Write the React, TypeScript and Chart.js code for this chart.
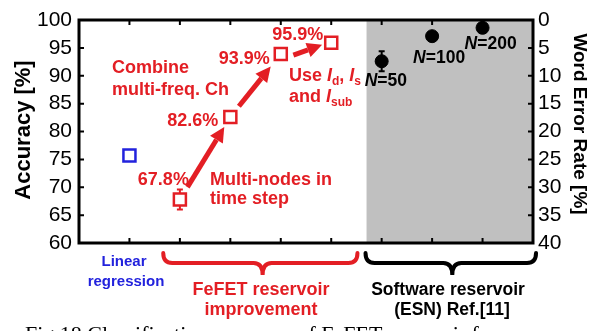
import { useEffect, useRef } from 'react';
import { Chart, registerables } from 'chart.js';

Chart.register(...registerables);

// ---- data ----
const linearX = [1];
const linearAcc = [75.7];

const fefetX = [2, 3, 4, 5];
const fefetAcc = [67.8, 82.6, 93.9, 95.9];
const fefetErr = [1.8, 0, 0, 0];
const fefetLabels = ['67.8%', '82.6%', '93.9%', '95.9%'];

const esnX = [6, 7, 8];
const esnAcc = [92.6, 97.1, 98.6];
const esnErr = [1.8, 0, 0];
const esnN = ['50', '100', '200'];

const xTickPositions = [1, 2, 3, 4, 5, 6, 7, 8];
const accTicks = [60, 65, 70, 75, 80, 85, 90, 95, 100];
const werTicks = [0, 5, 10, 15, 20, 25, 30, 35, 40];
const softwareStart = 5.7;

// ---- styles ----
const RED = '#e31e24';
const BLUE = '#2222dd';
const GRAY = '#c0c0c0';
const SANS = "'Liberation Sans', Arial, sans-serif";

type Seg = { t: string; it?: boolean; sub?: boolean };

function drawRich(ctx: CanvasRenderingContext2D, segs: Seg[], x: number, y: number, size: number, color: string) {
  let cx = x;
  ctx.fillStyle = color;
  ctx.textAlign = 'left';
  ctx.textBaseline = 'alphabetic';
  for (const s of segs) {
    const fs = s.sub ? Math.round(size * 0.68) : size;
    ctx.font = `${s.it ? 'italic ' : ''}bold ${fs}px ${SANS}`;
    ctx.fillText(s.t, cx, s.sub ? y + 4 : y);
    cx += ctx.measureText(s.t).width;
  }
}

function drawArrow(ctx: CanvasRenderingContext2D, x0: number, y0: number, x1: number, y1: number, color: string) {
  const ang = Math.atan2(y1 - y0, x1 - x0);
  const head = 15;
  const hw = 7.5;
  const bx = x1 - head * Math.cos(ang);
  const by = y1 - head * Math.sin(ang);
  ctx.strokeStyle = color;
  ctx.fillStyle = color;
  ctx.lineWidth = 5;
  ctx.lineCap = 'butt';
  ctx.beginPath();
  ctx.moveTo(x0, y0);
  ctx.lineTo(bx, by);
  ctx.stroke();
  ctx.beginPath();
  ctx.moveTo(x1, y1);
  ctx.lineTo(bx + hw * Math.sin(ang), by - hw * Math.cos(ang));
  ctx.lineTo(bx - hw * Math.sin(ang), by + hw * Math.cos(ang));
  ctx.closePath();
  ctx.fill();
}

function drawBrace(ctx: CanvasRenderingContext2D, x0: number, x1: number, xc: number, yTop: number, color: string) {
  const y1 = yTop + 10;
  const y2 = yTop + 22;
  const r = 9;
  ctx.strokeStyle = color;
  ctx.lineWidth = 4;
  ctx.lineCap = 'round';
  ctx.beginPath();
  ctx.moveTo(x0, yTop);
  ctx.quadraticCurveTo(x0, y1, x0 + r, y1);
  ctx.lineTo(xc - r, y1);
  ctx.quadraticCurveTo(xc, y1, xc, y2);
  ctx.quadraticCurveTo(xc, y1, xc + r, y1);
  ctx.lineTo(x1 - r, y1);
  ctx.quadraticCurveTo(x1, y1, x1, yTop);
  ctx.stroke();
}

const decoPlugin = {
  id: 'deco',
  beforeDatasetsDraw(chart: any) {
    const { ctx, chartArea: a, scales } = chart;
    const x = scales.x;
    const y = scales.y;
    ctx.save();
    const gx = x.getPixelForValue(softwareStart);
    ctx.fillStyle = GRAY;
    ctx.fillRect(gx, a.top, a.right - gx, a.bottom - a.top);

    const errs = (xs: number[], ys: number[], es: number[], color: string) => {
      ctx.strokeStyle = color;
      ctx.lineWidth = 2;
      xs.forEach((xv, i) => {
        if (!es[i]) return;
        const px = x.getPixelForValue(xv);
        const top = y.getPixelForValue(ys[i] + es[i]);
        const bot = y.getPixelForValue(ys[i] - es[i]);
        ctx.beginPath();
        ctx.moveTo(px, top);
        ctx.lineTo(px, bot);
        ctx.moveTo(px - 3, top);
        ctx.lineTo(px + 3, top);
        ctx.moveTo(px - 3, bot);
        ctx.lineTo(px + 3, bot);
        ctx.stroke();
      });
    };
    errs(fefetX, fefetAcc, fefetErr, RED);
    errs(esnX, esnAcc, esnErr, '#000');
    ctx.restore();
  },
  afterDatasetsDraw(chart: any) {
    const { ctx, chartArea: a, scales } = chart;
    const x = scales.x;
    const y = scales.y;
    const y2 = scales.y2;
    ctx.save();

    // frame
    ctx.strokeStyle = '#000';
    ctx.lineWidth = 3;
    ctx.strokeRect(a.left, a.top, a.right - a.left, a.bottom - a.top);

    // inward ticks
    ctx.lineWidth = 2;
    ctx.beginPath();
    xTickPositions.forEach((v) => {
      const px = x.getPixelForValue(v);
      ctx.moveTo(px, a.top);
      ctx.lineTo(px, a.top + 5);
      ctx.moveTo(px, a.bottom);
      ctx.lineTo(px, a.bottom - 5);
    });
    accTicks.forEach((v) => {
      const py = y.getPixelForValue(v);
      ctx.moveTo(a.left, py);
      ctx.lineTo(a.left + 5, py);
    });
    werTicks.forEach((v) => {
      const py = y2.getPixelForValue(v);
      ctx.moveTo(a.right, py);
      ctx.lineTo(a.right - 5, py);
    });
    ctx.stroke();

    // arrows between FeFET steps
    const spans = [
      [0.15, 0.88],
      [0.17, 0.8],
      [0.25, 0.82],
    ];
    for (let i = 0; i < fefetX.length - 1; i++) {
      const x0 = x.getPixelForValue(fefetX[i]);
      const y0 = y.getPixelForValue(fefetAcc[i]);
      const x1 = x.getPixelForValue(fefetX[i + 1]);
      const y1 = y.getPixelForValue(fefetAcc[i + 1]);
      const [t0, t1] = spans[i];
      drawArrow(ctx, x0 + (x1 - x0) * t0, y0 + (y1 - y0) * t0 + (i === 2 ? 4 : 0), x0 + (x1 - x0) * t1, y0 + (y1 - y0) * t1, RED);
    }

    // value labels next to FeFET points
    const offs = [
      [9, -15],
      [-12, 9],
      [-11, 10],
      [-8, -3],
    ];
    ctx.font = `bold 18px ${SANS}`;
    ctx.fillStyle = RED;
    ctx.textAlign = 'right';
    ctx.textBaseline = 'alphabetic';
    fefetLabels.forEach((lab, i) => {
      const px = x.getPixelForValue(fefetX[i]);
      const py = y.getPixelForValue(fefetAcc[i]);
      ctx.fillText(lab, px + offs[i][0], py + offs[i][1]);
    });

    // N labels
    const nOffs = [
      [-17, 25],
      [-19, 27],
      [-18, 21],
    ];
    esnN.forEach((n, i) => {
      const px = x.getPixelForValue(esnX[i]);
      const py = y.getPixelForValue(esnAcc[i]);
      drawRich(ctx, [{ t: 'N', it: true }, { t: '=' + n }], px + nOffs[i][0], py + nOffs[i][1], 17.5, '#000');
    });

    // free annotations
    drawRich(ctx, [{ t: 'Combine' }], 112, 73, 18, RED);
    drawRich(ctx, [{ t: 'multi-freq. Ch' }], 112, 95, 18, RED);
    drawRich(ctx, [{ t: 'Multi-nodes in' }], 210, 185, 18, RED);
    drawRich(ctx, [{ t: 'time step' }], 210, 204, 18, RED);
    drawRich(ctx, [{ t: 'Use ' }, { t: 'I', it: true }, { t: 'd', sub: true }, { t: ', ' }, { t: 'I', it: true }, { t: 's', sub: true }], 289, 81, 18, RED);
    drawRich(ctx, [{ t: 'and ' }, { t: 'I', it: true }, { t: 'sub', sub: true }], 289, 102, 18, RED);

    ctx.restore();
  },
  afterDraw(chart: any) {
    const { ctx, chartArea: a, scales } = chart;
    const x = scales.x;
    ctx.save();

    // axis titles
    ctx.fillStyle = '#000';
    ctx.textAlign = 'center';
    ctx.textBaseline = 'middle';
    ctx.font = `bold 22px ${SANS}`;
    ctx.save();
    ctx.translate(24, 130);
    ctx.rotate(-Math.PI / 2);
    ctx.fillText('Accuracy [%]', 0, 0);
    ctx.restore();
    ctx.font = `bold 19px ${SANS}`;
    ctx.save();
    ctx.translate(579, 124);
    ctx.rotate(Math.PI / 2);
    ctx.fillText('Word Error Rate [%]', 0, 0);
    ctx.restore();

    // group braces
    const bTop = a.bottom + 10;
    drawBrace(ctx, x.getPixelForValue(1.67), x.getPixelForValue(5.52), x.getPixelForValue(3.64), bTop, RED);
    drawBrace(ctx, x.getPixelForValue(5.68), x.getPixelForValue(9.06), x.getPixelForValue(7.4), bTop, '#000');

    // group labels
    ctx.textAlign = 'center';
    ctx.textBaseline = 'alphabetic';
    ctx.fillStyle = BLUE;
    ctx.font = `bold 15px ${SANS}`;
    ctx.fillText('Linear', 124, 266);
    ctx.fillText('regression', 126, 286);
    ctx.fillStyle = RED;
    ctx.font = `bold 18px ${SANS}`;
    ctx.fillText('FeFET reservoir', 261, 295);
    ctx.fillText('improvement', 261, 315);
    ctx.fillStyle = '#000';
    ctx.font = `bold 17.5px ${SANS}`;
    ctx.fillText('Software reservoir', 448, 295);
    ctx.fillText('(ESN) Ref.[11]', 452, 315);

    // caption (cut by the page edge)
    ctx.textAlign = 'left';
    ctx.font = `22px 'Liberation Serif', 'Times New Roman', serif`;
    ctx.fillText('Fig.18 Classification accuracy of FeFET reservoir f', 25, 341);
    ctx.restore();
  },
};

export default function App() {
  const ref = useRef<HTMLCanvasElement | null>(null);

  useEffect(() => {
    if (!ref.current) return;
    const chart = new Chart(ref.current, {
      type: 'scatter',
      data: {
        datasets: [
          {
            label: 'Linear regression',
            data: linearX.map((v, i) => ({ x: v, y: linearAcc[i] })),
            pointStyle: 'rect',
            radius: 8.5,
            borderColor: BLUE,
            backgroundColor: '#fff',
            borderWidth: 2.5,
            yAxisID: 'y',
          },
          {
            label: 'FeFET reservoir',
            data: fefetX.map((v, i) => ({ x: v, y: fefetAcc[i] })),
            pointStyle: 'rect',
            radius: 8.5,
            borderColor: RED,
            backgroundColor: '#fff',
            borderWidth: 2.5,
            yAxisID: 'y',
          },
          {
            label: 'Software reservoir (ESN)',
            data: esnX.map((v, i) => ({ x: v, y: esnAcc[i] })),
            pointStyle: 'circle',
            radius: 6.5,
            borderColor: '#000',
            backgroundColor: '#000',
            borderWidth: 1,
            yAxisID: 'y',
          },
        ],
      },
      options: {
        responsive: false,
        animation: false,
        devicePixelRatio: 1,
        layout: { padding: { top: 20, bottom: 88, left: 0, right: 0 } },
        plugins: { legend: { display: false }, tooltip: { enabled: false } },
        scales: {
          x: { type: 'linear', min: 0, max: 9, display: false },
          y: {
            type: 'linear',
            position: 'left',
            min: 60,
            max: 100,
            grid: { display: false, drawTicks: false },
            border: { display: false },
            ticks: {
              stepSize: 5,
              autoSkip: false,
              padding: 7,
              color: '#000',
              font: { family: SANS, size: 21 },
            },
            afterFit: (s: any) => {
              s.width = 79;
            },
          },
          y2: {
            type: 'linear',
            position: 'right',
            min: 0,
            max: 40,
            reverse: true,
            grid: { display: false, drawTicks: false },
            border: { display: false },
            ticks: {
              stepSize: 5,
              autoSkip: false,
              padding: 5,
              color: '#000',
              font: { family: SANS, size: 21 },
            },
            afterFit: (s: any) => {
              s.width = 65;
            },
          },
        },
      },
      plugins: [decoPlugin],
    });
    return () => chart.destroy();
  }, []);

  return (
    <div style={{ position: 'fixed', left: 0, top: 0, width: 598, height: 331, background: '#fff' }}>
      <canvas ref={ref} width={598} height={331} style={{ width: 598, height: 331, display: 'block' }} />
    </div>
  );
}
